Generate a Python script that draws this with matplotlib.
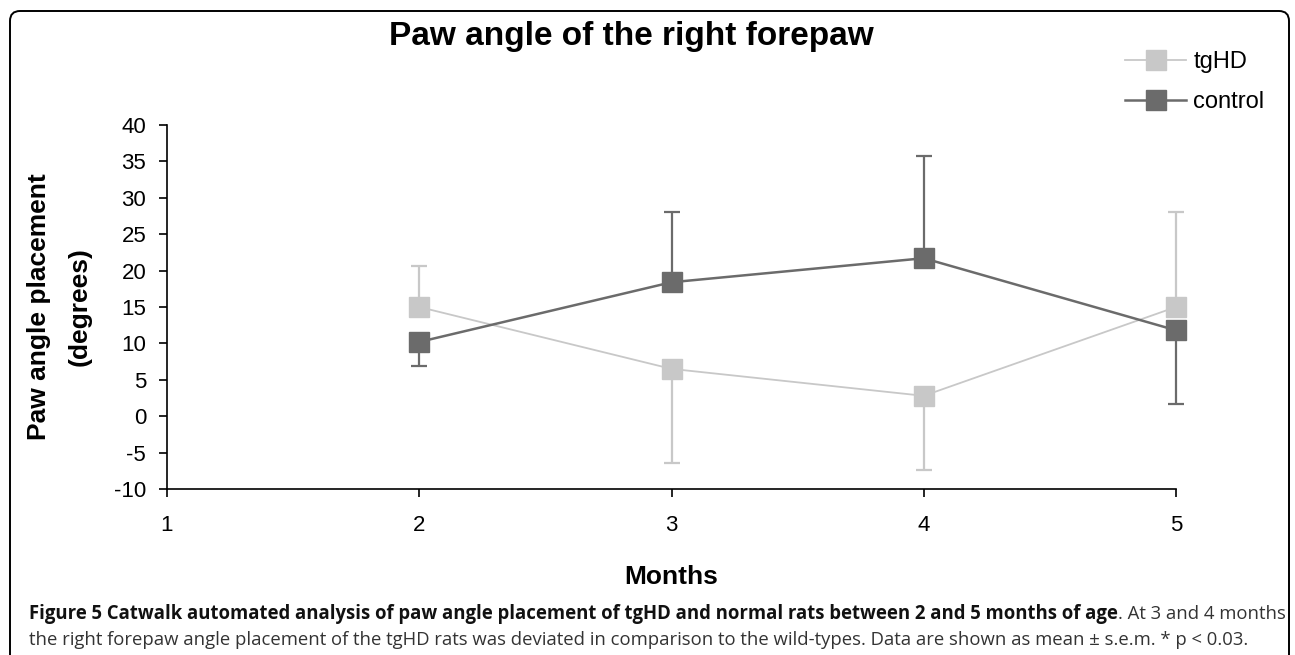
import matplotlib
matplotlib.use('Agg')
import matplotlib.pyplot as plt
from matplotlib.patches import FancyBboxPatch
from matplotlib.transforms import IdentityTransform
from matplotlib.lines import Line2D

plt.rcParams['font.family'] = ['Liberation Sans', 'DejaVu Sans']
plt.rcParams['axes.unicode_minus'] = False

# data (mean, s.e.m.)
months = [2, 3, 4, 5]
tghd_mean = [15.0, 6.5, 2.8, 15.0]
tghd_sem = [5.7, 12.9, 10.2, 13.0]
ctrl_mean = [10.2, 18.4, 21.7, 11.8]
ctrl_sem = [3.3, 9.6, 14.0, 10.1]
# error bar drawn only on one side: +1 up, -1 down
tghd_side = [1, -1, -1, 1]
ctrl_side = [-1, 1, 1, -1]

x_ticks = [1, 2, 3, 4, 5]
y_ticks = [-10, -5, 0, 5, 10, 15, 20, 25, 30, 35, 40]

light = '#c8c8c8'
dark = '#6b6b6b'

W, H = 1295, 655


def one_sided(sem, side):
    lo = [s if d < 0 else 0 for s, d in zip(sem, side)]
    up = [s if d > 0 else 0 for s, d in zip(sem, side)]
    return [lo, up]


fig = plt.figure(figsize=(W / 100, H / 100), dpi=100)
ax = fig.add_axes([167 / W, 1 - 489 / H, (1176 - 167) / W, (489 - 125) / H])

ax.errorbar(months, tghd_mean, yerr=one_sided(tghd_sem, tghd_side), fmt='none',
            ecolor=light, elinewidth=1.6, capsize=5.5, capthick=1.6, zorder=2, clip_on=False)
ax.plot(months, tghd_mean, color=light, lw=1.3, marker='s', ms=14, zorder=3, clip_on=False)
ax.errorbar(months, ctrl_mean, yerr=one_sided(ctrl_sem, ctrl_side), fmt='none',
            ecolor=dark, elinewidth=1.6, capsize=5.5, capthick=1.6, zorder=4, clip_on=False)
ax.plot(months, ctrl_mean, color=dark, lw=1.8, marker='s', ms=14, zorder=5, clip_on=False)

ax.set_xlim(1, 5)
ax.set_ylim(-10, 40)
ax.set_xticks(x_ticks)
ax.set_yticks(y_ticks)
for s in ['top', 'right']:
    ax.spines[s].set_visible(False)
for s in ['left', 'bottom']:
    ax.spines[s].set_linewidth(1.2)
ax.tick_params(axis='both', direction='out', length=6, width=1.2, labelsize=16)
ax.tick_params(axis='x', pad=13)
ax.tick_params(axis='y', pad=9)

fig.text(631 / W, 1 - 36 / H, 'Paw angle of the right forepaw', fontsize=24,
         fontweight='bold', ha='center', va='center')
fig.text(39 / W, 1 - 307 / H, 'Paw angle placement', rotation=90, fontsize=19,
         fontweight='bold', ha='center', va='center')
fig.text(80 / W, 1 - 307 / H, '(degrees)', rotation=90, fontsize=19,
         fontweight='bold', ha='center', va='center')
fig.text(671 / W, 1 - 577 / H, 'Months', fontsize=19, fontweight='bold',
         ha='center', va='center')

handles = [Line2D([], [], color=light, lw=1.3, marker='s', ms=14),
           Line2D([], [], color=dark, lw=1.8, marker='s', ms=14)]
fig.legend(handles, ['tgHD', 'control'], loc='upper left',
           bbox_to_anchor=(1125 / W, 1 - 51 / H), frameon=False, fontsize=17,
           handlelength=2.6, handletextpad=0.3, labelspacing=0.78,
           borderpad=0, borderaxespad=0)

# caption
cap_bold = ('Figure 5 Catwalk automated analysis of paw angle placement of tgHD '
            'and normal rats between 2 and 5 months of age')
cap_rest = '. At 3 and 4 months'
cap_line2 = ('the right forepaw angle placement of the tgHD rats was deviated in '
             'comparison to the wild-types. Data are shown as mean \u00b1 s.e.m. * p < 0.03.')
cap_font = ['Open Sans', 'DejaVu Sans']
fs = 13
x0 = 29 / W
y1 = 1 - 614 / H
y2 = 1 - 640 / H
t1 = fig.text(x0, y1, cap_bold, fontsize=fs, fontweight='bold', family=cap_font,
              ha='left', va='center', color='#111111')
t2 = fig.text(x0, y1, cap_rest, fontsize=fs, family=cap_font,
              ha='left', va='center', color='#333333')
t3 = fig.text(x0, y2, cap_line2, fontsize=fs, family=cap_font,
              ha='left', va='center', color='#333333')
r = fig.canvas.get_renderer()
total = t1.get_window_extent(r).width + t2.get_window_extent(r).width
fs = fs * 1248 / total
for t in (t1, t2, t3):
    t.set_fontsize(fs)
w1 = t1.get_window_extent(r).width
t2.set_x(x0 + w1 / W)

frame = FancyBboxPatch((10, -30), 1279, H - 11 + 30,
                       boxstyle='round,pad=0,rounding_size=10',
                       transform=IdentityTransform(), fill=False,
                       edgecolor='black', lw=1.4)
fig.add_artist(frame)

fig.savefig('out.png', dpi=100)
